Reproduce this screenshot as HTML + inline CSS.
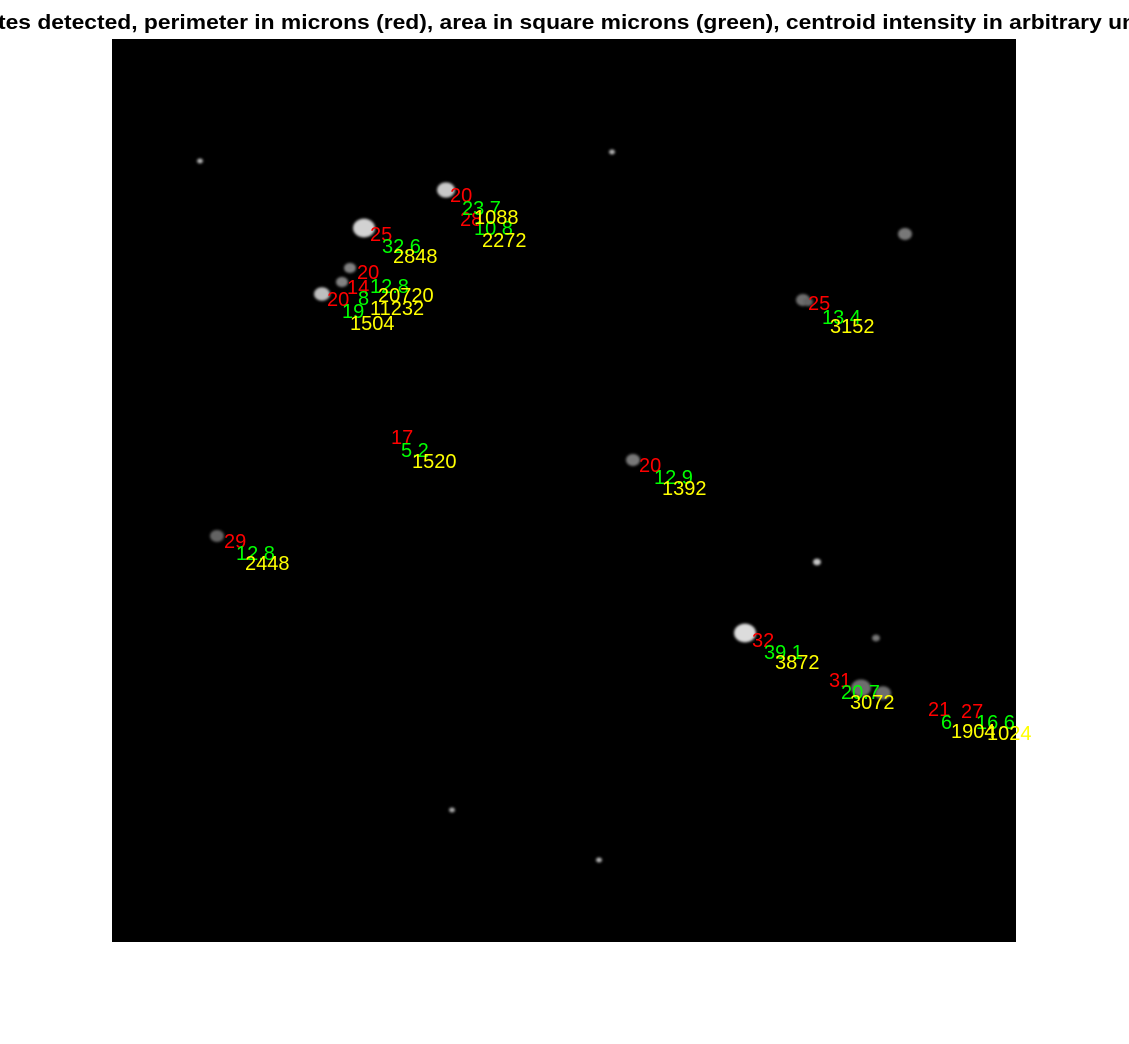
<!DOCTYPE html>
<html><head><meta charset="utf-8"><style>
html,body{margin:0;padding:0;background:#fff;width:1129px;height:1044px;overflow:hidden}
svg{display:block}
text{font-family:"Liberation Sans",sans-serif}
</style></head><body>
<svg width="1129" height="1044" viewBox="0 0 1129 1044">
<text x="-2" y="29" font-size="20" font-weight="bold" fill="#000" textLength="1138" lengthAdjust="spacingAndGlyphs">tes detected, perimeter in microns (red), area in square microns (green), centroid intensity in arbitrary un</text>
<rect x="112" y="39" width="904" height="903" fill="#000"/>
<defs><filter id="bl"><feGaussianBlur stdDeviation="1.2"/></filter></defs>
<g id="blobs" filter="url(#bl)"></g>
<g id="labels"></g>
</svg>
<script>
const blobX=[446,364,322,350,342,745,803,633,217,808,861,883,905,876,817,452,599,612,200];
const blobY=[190,228,294,268,282,633,300,460,536,302,688,693,234,638,562,810,860,152,161];
const blobR=[9,11,8,6,6,11,7,7,7,5,10,8,7,4,4,3,3,3,3];
const blobV=[200,210,190,130,130,220,110,120,100,100,110,110,120,120,200,170,180,180,180];
const redText=["20","28","25","20","14","20","25","17","20","29","32","31","21","27"];
const redX=[450,460,370,357,347,327,808,391,639,224,752,829,928,961];
const redY=[195,219,234,272,287,299,303,437,465,541,640,680,709,711];
const greenText=["23.7","10.8","32.6","12.8","8","19","13.4","5.2","12.9","12.8","39.1","20.7","6","16.6"];
const greenX=[462,474,382,370,358,342,822,401,654,236,764,841,941,976];
const greenY=[208,228,246,286,298,311,317,450,477,553,652,692,722,722];
const yellowText=["1088","2272","2848","20720","11232","1504","3152","1520","1392","2448","3872","3072","1904","1024"];
const yellowX=[474,482,393,378,370,350,830,412,662,245,775,850,951,987];
const yellowY=[217,240,256,295,308,323,326,461,488,563,662,702,731,733];
const NS="http://www.w3.org/2000/svg";
const bg=document.getElementById('blobs');
for(let i=0;i<blobX.length;i++){
  const c=document.createElementNS(NS,'ellipse');
  
  
  c.setAttribute('cx',blobX[i]);c.setAttribute('cy',blobY[i]);
  c.setAttribute('rx',blobR[i]);c.setAttribute('ry',blobR[i]*0.85);
  const v=blobV[i];c.setAttribute('fill','rgb('+v+','+v+','+v+')');
  bg.appendChild(c);
}
const lg=document.getElementById('labels');
function put(arrT,arrX,arrY,col,name){
  for(let i=0;i<arrT.length;i++){
    const t=document.createElementNS(NS,'text');
    
    
    t.setAttribute('x',arrX[i]);t.setAttribute('y',arrY[i]+7);
    t.setAttribute('font-size','20');t.setAttribute('fill',col);
    t.textContent=arrT[i];lg.appendChild(t);
  }
}
put(redText,redX,redY,'#ff0000','perimeter-label');
put(greenText,greenX,greenY,'#00ff00','area-label');
put(yellowText,yellowX,yellowY,'#ffff00','intensity-label');
</script>
</body></html>
